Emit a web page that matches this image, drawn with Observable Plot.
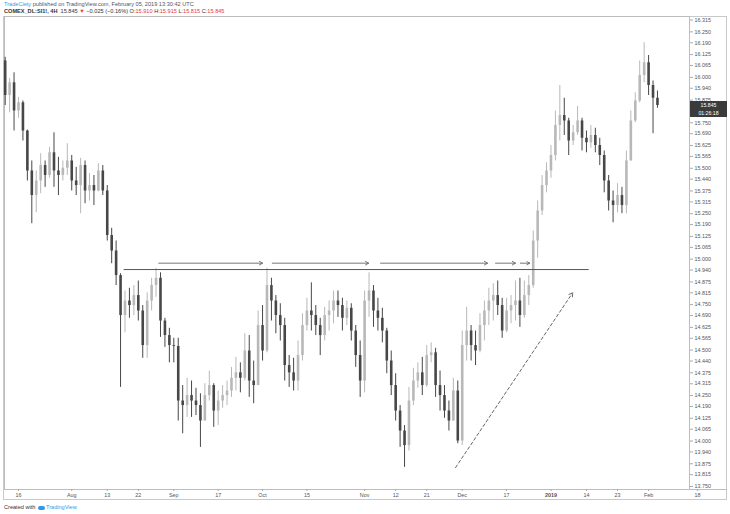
<!DOCTYPE html>
<html><head><meta charset="utf-8">
<script src="https://cdn.jsdelivr.net/npm/d3@7"></script>
<script src="https://cdn.jsdelivr.net/npm/@observablehq/plot@0.6"></script>
<style>
body{margin:0;background:#fff;width:730px;height:514px;position:relative;overflow:hidden;font-family:"Liberation Sans",Arial,sans-serif;}
#h1{position:absolute;left:4px;top:1px;font-size:5.6px;color:#555;white-space:nowrap}
#h2{position:absolute;left:4px;top:8px;font-size:5.6px;color:#333;white-space:nowrap}
#h1 .b{color:#2f9be6}
#h2 .n{font-weight:bold}
.red{color:#e23b3b}
#frame{position:absolute;left:3px;top:16px;width:724px;height:484px;border:1px solid #c9c9c9;box-sizing:border-box}
#tline{position:absolute;left:689px;top:489px;width:38px;height:1px;background:#bdbdbd}
#chart{position:absolute;left:0;top:16px}
#foot{position:absolute;left:4px;top:504px;font-size:5.6px;color:#333;white-space:nowrap}
#foot .b{color:#2f9be6}
#foot .logo{display:inline-block;width:7px;height:4px;background:#2f9be6;border-radius:2px;margin:0 1px 0 1px;vertical-align:middle}
.pbox{position:absolute;left:690px;width:37px;height:8px;background:#3b3b3b;color:#fff;font-size:5.2px;text-align:center;line-height:8px}
</style></head>
<body>
<div id="h1"><span class="b">TradeCiety</span> published on TradingView.com, February 05, 2019 13:30:42 UTC</div>
<div id="h2"><span class="n">COMEX_DL:SI1!, 4H</span>&nbsp; 15.845 <span class="red">▼</span> −0.025 (−0.16%) O:<span class="red">15.910</span> H:<span class="red">15.915</span> L:<span class="red">15.815</span> C:<span class="red">15.845</span></div>
<div id="frame"></div>
<div id="tline"></div>
<div id="chart"></div>
<div id="foot">Created with <span class="logo"></span><span class="b">TradingView</span></div>
<script>
// ---- data (daily OHLC) ----
const startDate = "2018-07-11";
const holidays = ["2018-12-25", "2019-01-01"];

const opens = [
16.090,15.900,15.970,15.815,15.860,15.705,15.485,15.350,15.430,15.515,
15.460,15.585,15.485,15.460,15.500,15.540,15.430,15.405,15.515,15.375,
15.405,15.375,15.485,15.375,15.130,15.045,14.910,14.690,14.770,14.745,
14.800,14.715,14.525,14.770,14.855,14.895,14.660,14.580,14.525,14.520,
14.220,14.195,14.250,14.220,14.195,14.110,14.250,14.305,14.165,14.220,
14.250,14.275,14.345,14.375,14.345,14.495,14.330,14.305,14.635,14.495,
14.855,14.770,14.690,14.635,14.415,14.375,14.330,14.470,14.635,14.715,
14.690,14.635,14.580,14.690,14.715,14.770,14.745,14.675,14.730,14.605,
14.470,14.330,14.770,14.825,14.715,14.675,14.605,14.440,14.305,14.165,
14.055,13.975,14.220,14.330,14.375,14.305,14.470,14.485,14.305,14.250,
14.165,14.110,14.275,14.000,14.525,14.605,14.525,14.495,14.635,14.715,
14.770,14.800,14.745,14.605,14.715,14.745,14.770,14.690,14.800,14.855,
15.100,15.265,15.405,15.485,15.570,15.735,15.790,15.760,15.650,15.695,
15.760,15.665,15.640,15.680,15.625,15.570,15.430,15.320,15.295,15.350,
15.295,15.540,15.760,15.870,16.010,16.080,15.955,15.885];
const highs = [
16.110,15.995,16.025,15.890,15.870,15.710,15.540,15.485,15.580,15.540,
15.615,15.695,15.560,15.540,15.635,15.570,15.505,15.555,15.540,15.470,
15.460,15.525,15.515,15.405,15.170,15.100,14.920,14.825,14.840,14.855,
14.880,14.745,14.815,14.895,14.950,14.925,14.675,14.620,14.565,14.565,
14.305,14.345,14.330,14.290,14.260,14.315,14.385,14.315,14.275,14.305,
14.330,14.405,14.460,14.430,14.590,14.580,14.440,14.715,14.745,14.950,
14.895,14.800,14.755,14.675,14.470,14.455,14.550,14.700,14.785,14.870,
14.745,14.675,14.735,14.770,14.825,14.825,14.785,14.770,14.755,14.635,
14.550,14.825,14.925,14.855,14.785,14.730,14.620,14.495,14.370,14.195,
14.085,14.295,14.400,14.430,14.460,14.525,14.540,14.510,14.385,14.305,
14.220,14.345,14.330,14.605,14.735,14.635,14.605,14.700,14.770,14.840,
14.865,14.880,14.785,14.785,14.800,14.880,14.895,14.880,14.910,15.155,
15.320,15.460,15.530,15.625,15.815,15.955,15.885,15.775,15.735,15.840,
15.775,15.705,15.735,15.720,15.665,15.595,15.460,15.375,15.415,15.395,
15.595,15.815,15.915,16.090,16.190,16.120,15.980,15.925];
const lows = [
15.845,15.805,15.705,15.775,15.650,15.430,15.195,15.255,15.360,15.395,
15.445,15.395,15.350,15.430,15.460,15.375,15.350,15.250,15.305,15.320,
15.295,15.370,15.350,15.100,14.975,14.855,14.295,14.595,14.675,14.690,
14.660,14.455,14.455,14.715,14.790,14.570,14.515,14.430,14.430,14.110,
14.040,14.130,14.130,14.140,13.965,14.110,14.220,14.075,14.085,14.180,
14.195,14.240,14.275,14.265,14.330,14.240,14.205,14.305,14.440,14.485,
14.660,14.590,14.550,14.330,14.295,14.275,14.275,14.440,14.605,14.605,
14.580,14.470,14.550,14.605,14.645,14.680,14.605,14.635,14.550,14.405,
14.240,14.265,14.680,14.625,14.605,14.540,14.370,14.250,14.110,13.965,
13.855,13.945,14.195,14.290,14.250,14.295,14.430,14.240,14.165,14.125,
14.055,14.110,13.985,13.975,14.440,14.440,14.415,14.485,14.550,14.635,
14.660,14.690,14.565,14.595,14.645,14.660,14.625,14.675,14.745,14.840,
15.005,15.240,15.365,15.445,15.540,15.650,15.680,15.570,15.625,15.680,
15.595,15.585,15.610,15.585,15.515,15.365,15.265,15.200,15.255,15.250,
15.250,15.540,15.750,15.860,15.970,15.900,15.690,15.830];
const closes = [
15.900,15.970,15.815,15.860,15.705,15.485,15.350,15.430,15.515,15.460,
15.585,15.485,15.460,15.500,15.540,15.430,15.405,15.515,15.375,15.405,
15.375,15.485,15.375,15.130,15.045,14.910,14.690,14.770,14.745,14.800,
14.715,14.525,14.770,14.855,14.895,14.660,14.580,14.525,14.520,14.220,
14.195,14.250,14.220,14.195,14.110,14.250,14.305,14.165,14.220,14.250,
14.275,14.345,14.375,14.345,14.495,14.330,14.305,14.635,14.495,14.855,
14.770,14.690,14.635,14.415,14.375,14.330,14.470,14.635,14.715,14.690,
14.635,14.580,14.690,14.715,14.770,14.745,14.675,14.730,14.605,14.470,
14.330,14.770,14.825,14.715,14.675,14.605,14.440,14.305,14.165,14.055,
13.975,14.220,14.330,14.375,14.305,14.470,14.485,14.305,14.250,14.165,
14.110,14.275,14.000,14.525,14.605,14.525,14.495,14.635,14.715,14.770,
14.800,14.745,14.605,14.715,14.745,14.770,14.690,14.800,14.855,15.100,
15.265,15.405,15.485,15.570,15.735,15.790,15.760,15.650,15.695,15.760,
15.665,15.640,15.680,15.625,15.570,15.430,15.320,15.295,15.350,15.295,
15.540,15.760,15.870,16.010,16.080,15.955,15.885,15.845];

// price-scale labels (15.815 sits under the last-price label in the reference)
const priceTickLabels = ["16.315","16.250","16.190","16.125","16.065","16.000","15.940","15.875","15.750",
"15.690","15.625","15.565","15.500","15.440","15.375","15.315","15.250","15.190","15.125","15.065","15.000",
"14.940","14.875","14.815","14.750","14.690","14.625","14.565","14.500","14.440","14.375","14.315","14.250",
"14.190","14.125","14.065","14.000","13.940","13.875","13.815","13.750"];
const timeTickDates = ["2018-07-16","2018-08-01","2018-08-13","2018-08-22","2018-09-03","2018-09-17","2018-10-01",
"2018-10-15","2018-11-01","2018-11-12","2018-11-21","2018-12-03","2018-12-17","2019-01-02","2019-01-14",
"2019-01-23","2019-02-01","2019-02-18"];
const timeTickLabels = ["16","Aug","13","22","Sep","17","Oct","15","Nov","12","21","Dec","17","2019","14","23","Feb","18"];

// drawn annotations (bar number, price)
const levelPrice = 14.943;
const levelBars = [26.7, 131.5];
const arrowPrice = 14.978;
const arrowFromBars = [34.6, 60.2, 84.6, 110.5, 116.1];
const arrowToBars = [58.0, 81.9, 108.7, 115.0, 118.2];
const trendBars = [101.5, 127.9];
const trendPrices = [13.854, 14.816];
const lastPrice = 15.845;
const countdown = "01:26:18";

// ---- trading calendar ----
const days = [];
for (let d = new Date(startDate + "T00:00:00Z"); days.length < 160; d.setUTCDate(d.getUTCDate() + 1)) {
  const w = d.getUTCDay(), s = d.toISOString().slice(0, 10);
  if (w !== 0 && w !== 6 && !holidays.includes(s)) days.push(s);
}
const dayIndex = new Map(days.map((s, i) => [s, i]));
const timeTicks = timeTickDates.map(s => dayIndex.get(s));
const tickLabelAt = new Map(timeTicks.map((t, i) => [t, timeTickLabels[i]]));

const upColor = "#b8b8b8", downColor = "#474747";
const candles = closes.map((c, i) => ({i, o: opens[i], h: highs[i], l: lows[i], c, col: c >= opens[i] ? upColor : downColor}));
const levelSeg = [{x1: levelBars[0], x2: levelBars[1], y: levelPrice}];
const arrowSegs = arrowFromBars.map((a, k) => ({x1: a, x2: arrowToBars[k], y: arrowPrice}));
const trendSeg = [{x1: trendBars[0], x2: trendBars[1], y1: trendPrices[0], y2: trendPrices[1]}];

const plot = Plot.plot({
  width: 730, height: 485,
  marginLeft: 4, marginRight: 41, marginTop: 0, marginBottom: 12,
  style: {fontFamily: "Liberation Sans, Arial, sans-serif", fontSize: "5.4px", color: "#555", background: "transparent", overflow: "visible"},
  x: {type: "linear", domain: [-0.155, 154.22]},
  y: {domain: [13.7335, 16.3345]},
  marks: [
    Plot.frame({stroke: "#bdbdbd"}),
    Plot.axisY({anchor: "right", ticks: priceTickLabels.map(Number), tickFormat: d => d.toFixed(3), tickSize: 3, tickPadding: 2, stroke: "#aaa", fill: "#555", textAnchor: "start"}),
    Plot.axisX({anchor: "bottom", ticks: timeTicks, tickFormat: t => tickLabelAt.get(t), tickSize: 2, tickPadding: 2, stroke: "#aaa", fill: "#555"}),
    Plot.ruleX(candles, {x: "i", y1: "l", y2: "h", stroke: "col", strokeWidth: 1}),
    Plot.ruleX(candles, {x: "i", y1: "o", y2: "c", stroke: "col", strokeWidth: 2.6}),
    Plot.link(levelSeg, {x1: "x1", x2: "x2", y1: "y", y2: "y", stroke: "#555", strokeWidth: 1}),
    Plot.arrow(arrowSegs, {x1: "x1", x2: "x2", y1: "y", y2: "y", stroke: "#666", strokeWidth: 0.9, headLength: 6, headAngle: 60}),
    Plot.arrow(trendSeg, {x1: "x1", x2: "x2", y1: "y1", y2: "y2", stroke: "#555", strokeWidth: 0.9, strokeDasharray: "3,2.5", headLength: 7, headAngle: 60})
  ]
});
document.getElementById("chart").appendChild(plot);
d3.select(plot).selectAll("text").filter(function () { return this.textContent === "2019"; }).attr("font-weight", "bold");

const yPx = plot.scale("y").apply(lastPrice) + 16;
const b1 = document.createElement("div");
b1.className = "pbox"; b1.style.top = (yPx - 4) + "px"; b1.textContent = lastPrice.toFixed(3);
const b2 = document.createElement("div");
b2.className = "pbox"; b2.style.top = (yPx + 4) + "px"; b2.textContent = countdown;
document.body.appendChild(b1); document.body.appendChild(b2);
</script>
</body></html>
